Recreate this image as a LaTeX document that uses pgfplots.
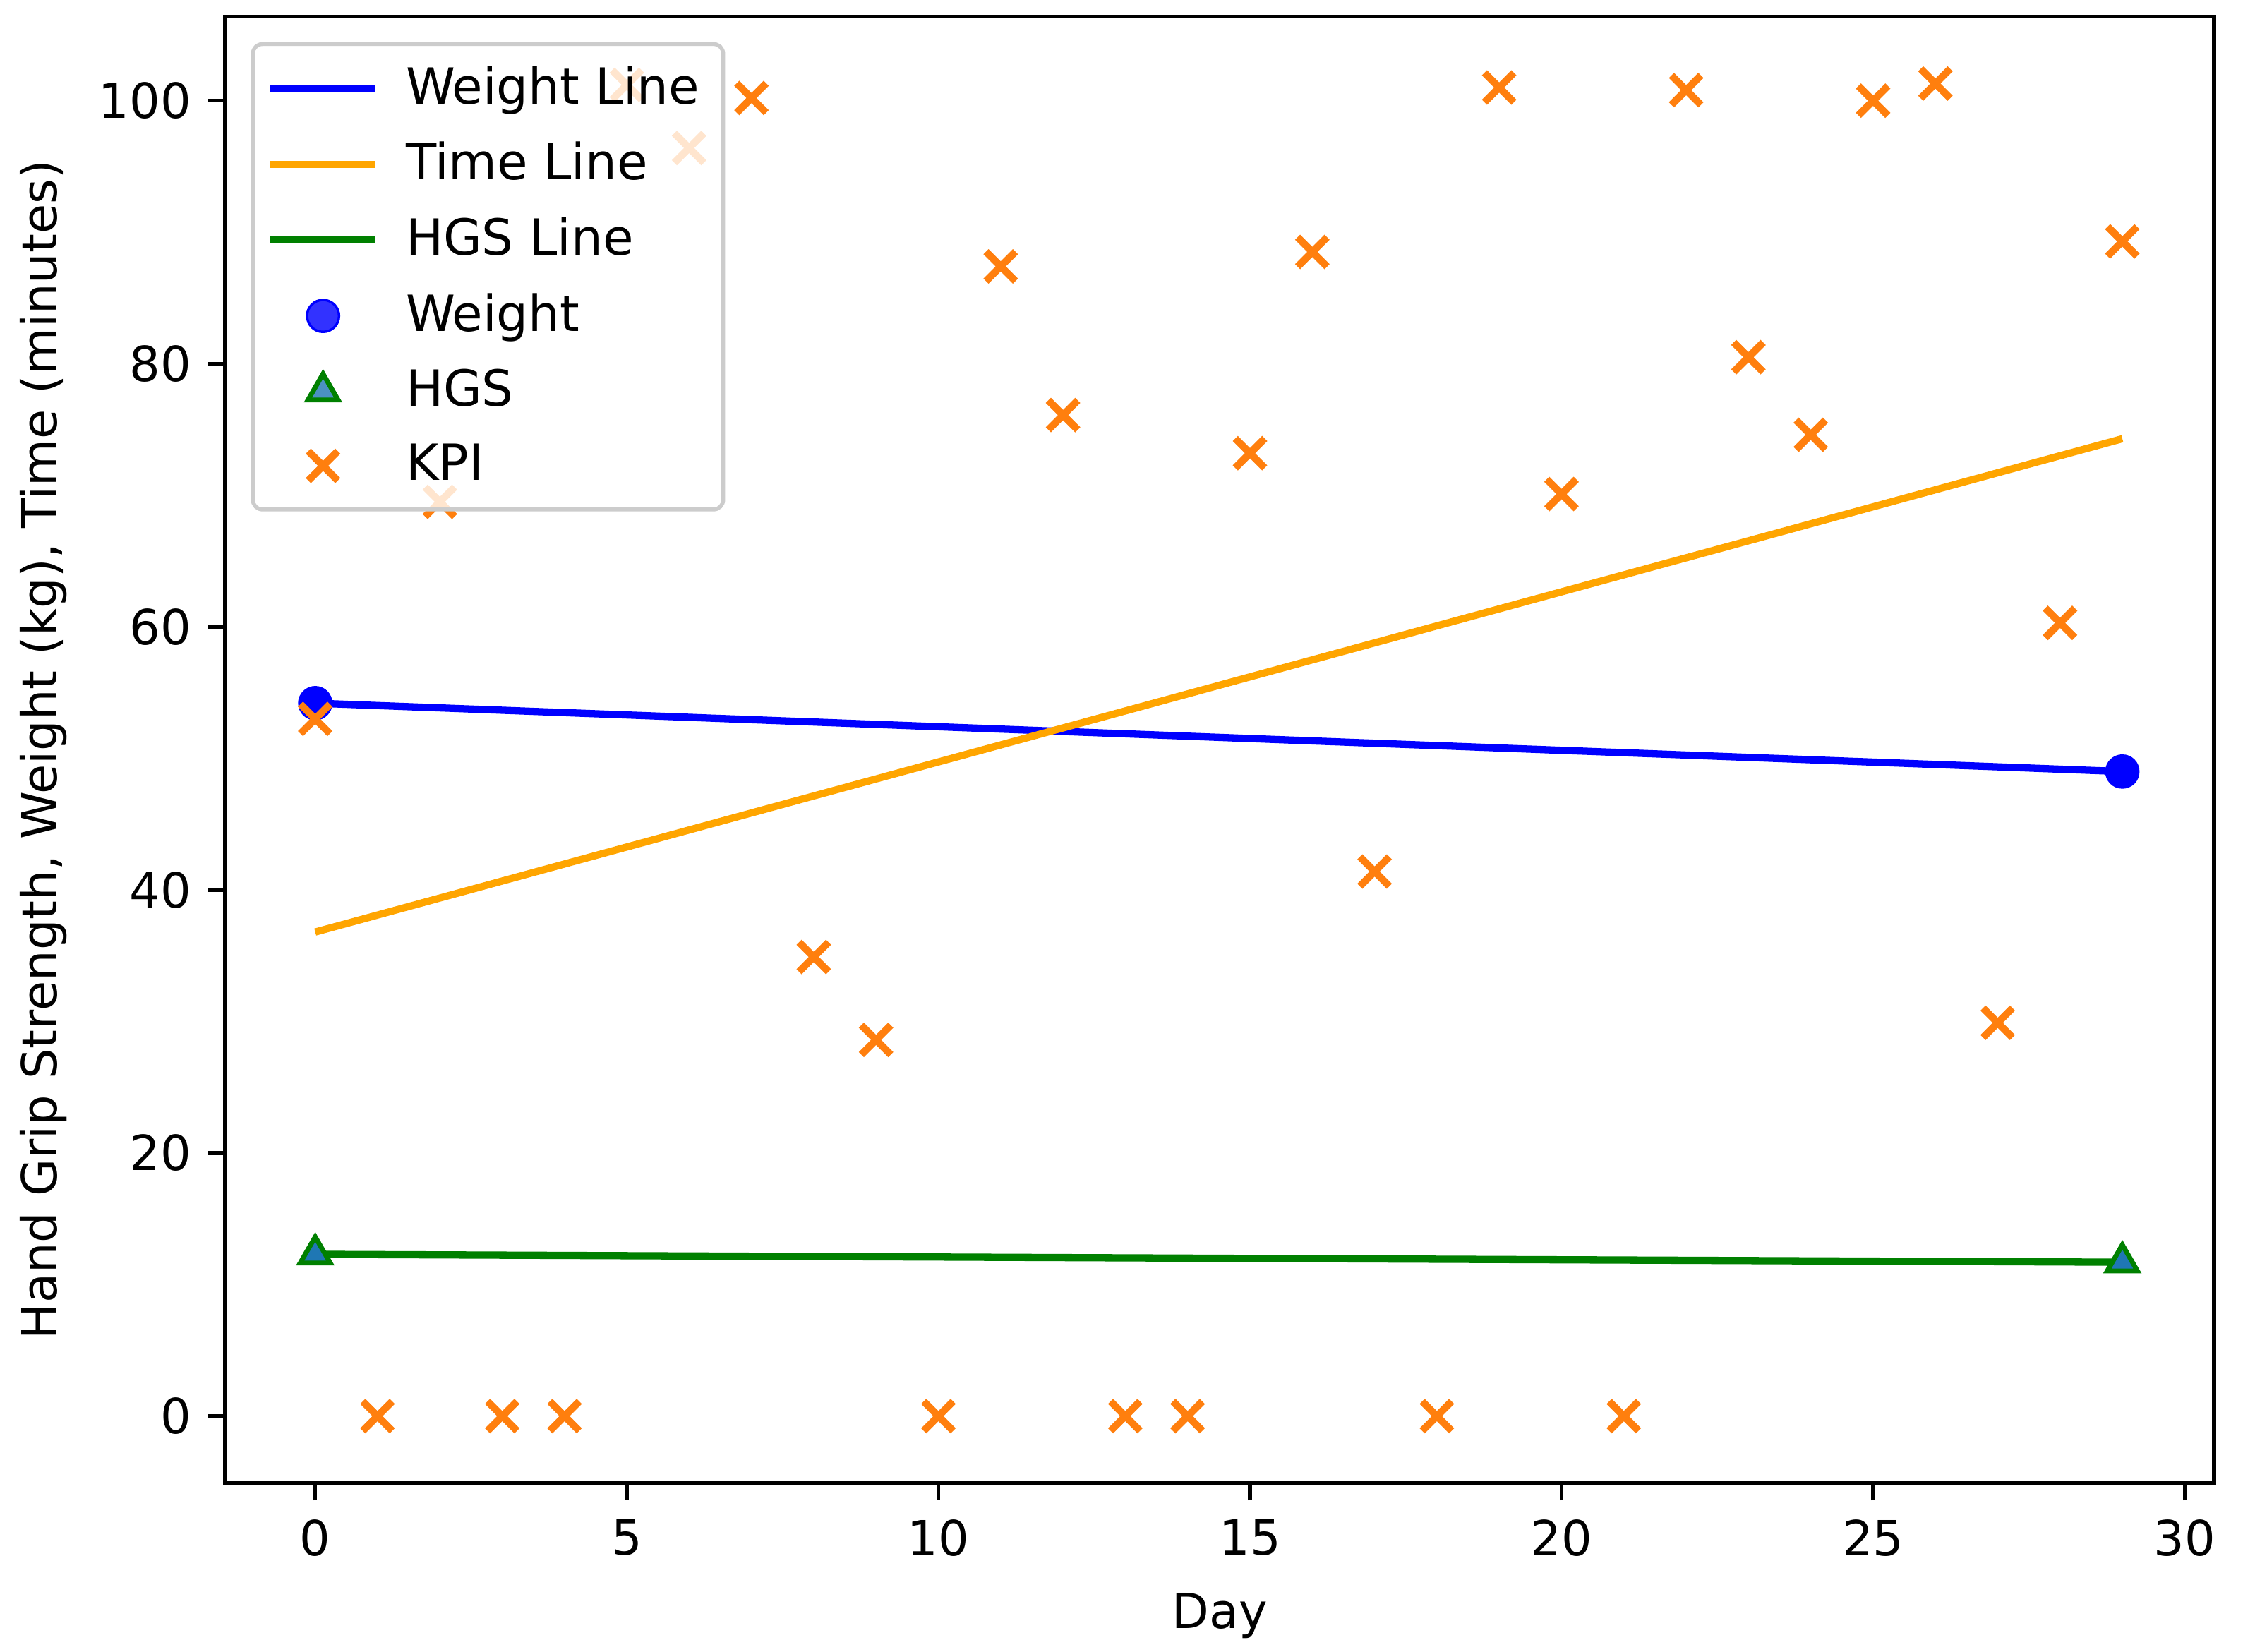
\documentclass[border=0pt]{standalone}
\usepackage{fontspec}
\setmainfont{DejaVu Sans}
\newfontfamily\ylfont{DejaVu Sans}[LetterSpace=2.8]
\usepackage{pgfplots}
\pgfplotsset{compat=1.18}
\usetikzlibrary{calc}
\definecolor{mplblue}{HTML}{0000FF}
\definecolor{mplorange}{HTML}{FFA500}
\definecolor{mplgreen}{HTML}{008000}
\definecolor{kpi}{HTML}{FF7F0E}
\definecolor{tabblue}{HTML}{1F77B4}
\definecolor{legframe}{HTML}{CCCCCC}
\pgfplotsset{
  mylegline/.style={legend image code/.code={\draw[##1] (0pt,0pt) -- (21.7pt,0pt);}},
  mylegmark/.style={legend image code/.code={\draw[##1] plot coordinates {(10.85pt,0pt)};}},
}
\begin{document}
\begin{tikzpicture}
\begin{axis}[
  scale only axis,
  width=410.6pt, height=302.9pt,
  xmin=-1.445, xmax=30.47,
  ymin=-5.11, ymax=106.4,
  xtick={0,5,...,30},
  ytick={0,20,...,100},
  tick pos=left,
  tick align=outside,
  major tick length=3.5pt,
  tick style={black, line width=0.8pt},
  axis line style={black, line width=0.8pt},
  /pgf/number format/assume math mode=true,
  ticklabel style={font=\fontsize{10}{12}\selectfont},
  xticklabel style={yshift=-0.5pt},
  xlabel={Day},
  ylabel={Hand Grip Strength, Weight (kg), Time (minutes)},
  xlabel style={font=\fontsize{10.3}{12}\selectfont},
  ylabel style={font=\ylfont\fontsize{10}{12}\selectfont},
  every axis x label/.style={at={(axis description cs:0.5,0)}, anchor=base, yshift=-30pt},
  every axis y label/.style={at={(axis description cs:0,0.5)}, anchor=base, rotate=90, yshift=34.7pt},
  legend cell align=left,
  legend style={
    at={(0,1)}, anchor=north west, xshift=5.3pt, yshift=-5.3pt,
    draw=legframe, line width=0.8pt, rounded corners=2pt,
    fill=white, fill opacity=0.8, text opacity=1,
    font=\fontsize{10.3}{12}\selectfont,
    inner xsep=2.9pt, inner ysep=2.5pt,
    row sep=2.33pt,
    /tikz/every odd column/.append style={column sep=3.5pt},
  },
  clip=true,
]
% regression lines
\addplot[mplblue, line width=1.5pt, mylegline] coordinates {(0,54.2) (29,49.0)};
\addlegendentry{Weight Line}
\addplot[mplorange, line width=1.5pt, mylegline] coordinates {(0,36.8) (29,74.3)};
\addlegendentry{Time Line}
\addplot[mplgreen, line width=1.5pt, mylegline] coordinates {(0,12.3) (29,11.7)};
\addlegendentry{HGS Line}
% scatter points
\addplot[only marks, mark=*, mark size=3.3pt, mark options={fill=mplblue, draw=mplblue, line width=0.5pt}, mylegmark] coordinates {(0,54.2) (29,49.0)};
\addlegendentry{Weight}
\addplot[only marks, mark=triangle*, mark size=3.6pt, mark options={fill=tabblue, draw=mplgreen, line width=1pt}, mylegmark] coordinates {(0,12.3) (29,11.7)};
\addlegendentry{HGS}
\addplot[only marks, mark=x, mark size=4.3pt, mark options={draw=kpi, line width=1.5pt}, mylegmark] coordinates {
(0,53.0) (1,0) (2,69.5) (3,0) (4,0) (5,101.2) (6,96.4) (7,100.2) (8,34.9) (9,28.6)
(10,0) (11,87.4) (12,76.1) (13,0) (14,0) (15,73.2) (16,88.5) (17,41.4) (18,0) (19,101.0)
(20,70.1) (21,0) (22,100.8) (23,80.5) (24,74.6) (25,100.0) (26,101.3) (27,29.9) (28,60.3) (29,89.3)
};
\addlegendentry{KPI}
\end{axis}
\pgfresetboundingbox
\path[use as bounding box] ($(current axis.south west)+(-46.5pt,-34.8pt)$) rectangle ($(current axis.north east)+(6.0pt,3.4pt)$);
\end{tikzpicture}
\end{document}
